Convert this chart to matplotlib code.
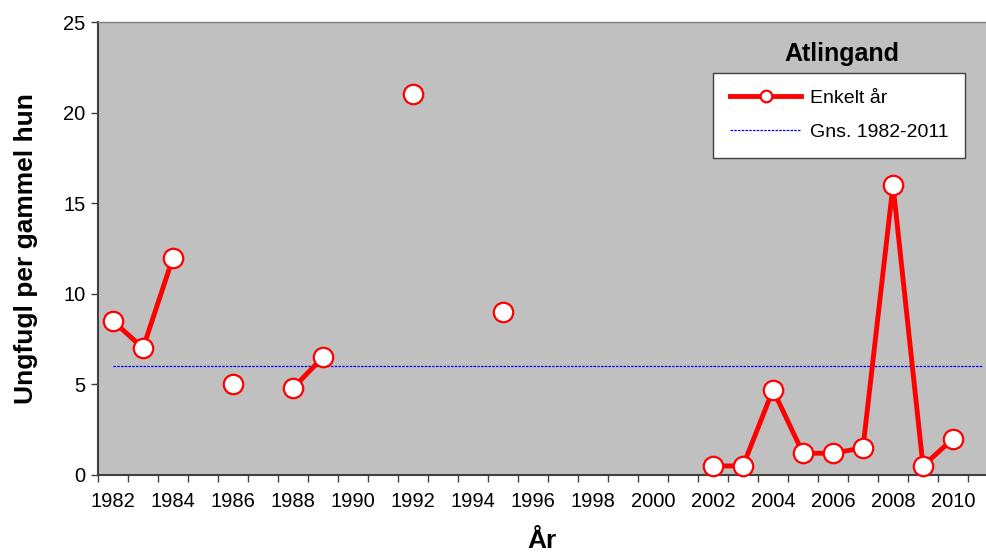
import numpy as np
import matplotlib
matplotlib.use("Agg")
import matplotlib.pyplot as plt

# data (NaN = no value that year)
years = list(range(1982, 2012))
values = [8.5, 7.0, 12.0, np.nan, 5.0, np.nan, 4.8, 6.5, np.nan, np.nan,
          21.0, np.nan, np.nan, 9.0, np.nan, np.nan, np.nan, np.nan, np.nan, np.nan,
          0.5, 0.5, 4.7, 1.2, 1.2, 1.5, 16.0, 0.5, 2.0, np.nan]
mean_value = 6.0
tick_years = list(range(1982, 2011, 2))

plt.rcParams['font.family'] = ['Liberation Sans', 'DejaVu Sans']

fig = plt.figure(figsize=(9.86, 5.57), dpi=100)
ax = fig.add_axes([98 / 986, 82 / 557, 888 / 986, 453 / 557])
ax.set_facecolor("#C0C0C0")

# average line over the whole period
ax.plot(years, [mean_value] * len(years), color="#0000FF", lw=0.9,
        linestyle=(0, (2, 1)), label="Gns. 1982-2011", zorder=2)

# single years
ax.plot(years, values, color="#FF0000", lw=3.5, marker="o", markersize=14,
        markerfacecolor="white", markeredgecolor="#FF0000", markeredgewidth=1.6,
        label="Enkelt år", zorder=3, clip_on=False)

ax.set_xlim(1981.5, 1981.5 + 888 / 30)
ax.set_ylim(0, 25)
ax.set_yticks([0, 5, 10, 15, 20, 25])
ax.set_xticks(tick_years)
ax.set_xticks(np.arange(1981.5, 2011.5, 1), minor=True)
ax.tick_params(axis="x", which="major", length=0, pad=12, labelsize=14.5)
ax.tick_params(axis="x", which="minor", length=5, width=1, color="#404040")
ax.tick_params(axis="y", length=5, width=1, color="#404040", labelsize=14.5, pad=4)

for side in ["left", "bottom"]:
    ax.spines[side].set_color("#404040")
    ax.spines[side].set_linewidth(1.5)
ax.spines["top"].set_color("#808080")
ax.spines["top"].set_linewidth(1.0)
ax.spines["right"].set_visible(False)

ax.set_ylabel("Ungfugl per gammel hun", fontsize=19, fontweight="bold", labelpad=18)
ax.set_xlabel("År", fontsize=19, fontweight="bold", labelpad=13)

# chart title sits above the legend box
fig.text(842 / 986, 1 - 54 / 557, "Atlingand", fontsize=18, fontweight="bold",
         ha="center", va="center")

handles, labels = ax.get_legend_handles_labels()
leg = ax.legend(handles[::-1], labels[::-1], loc="upper left",
                bbox_to_anchor=(713 / 986, 1 - 73 / 557), bbox_transform=fig.transFigure,
                fontsize=14, frameon=True, fancybox=False, framealpha=1,
                edgecolor="#404040", handlelength=3.7, handletextpad=0.45,
                labelspacing=0.85, borderpad=0.85, borderaxespad=0, markerscale=0.6)
leg.get_frame().set_linewidth(1.0)

fig.savefig("out.png", dpi=100)
